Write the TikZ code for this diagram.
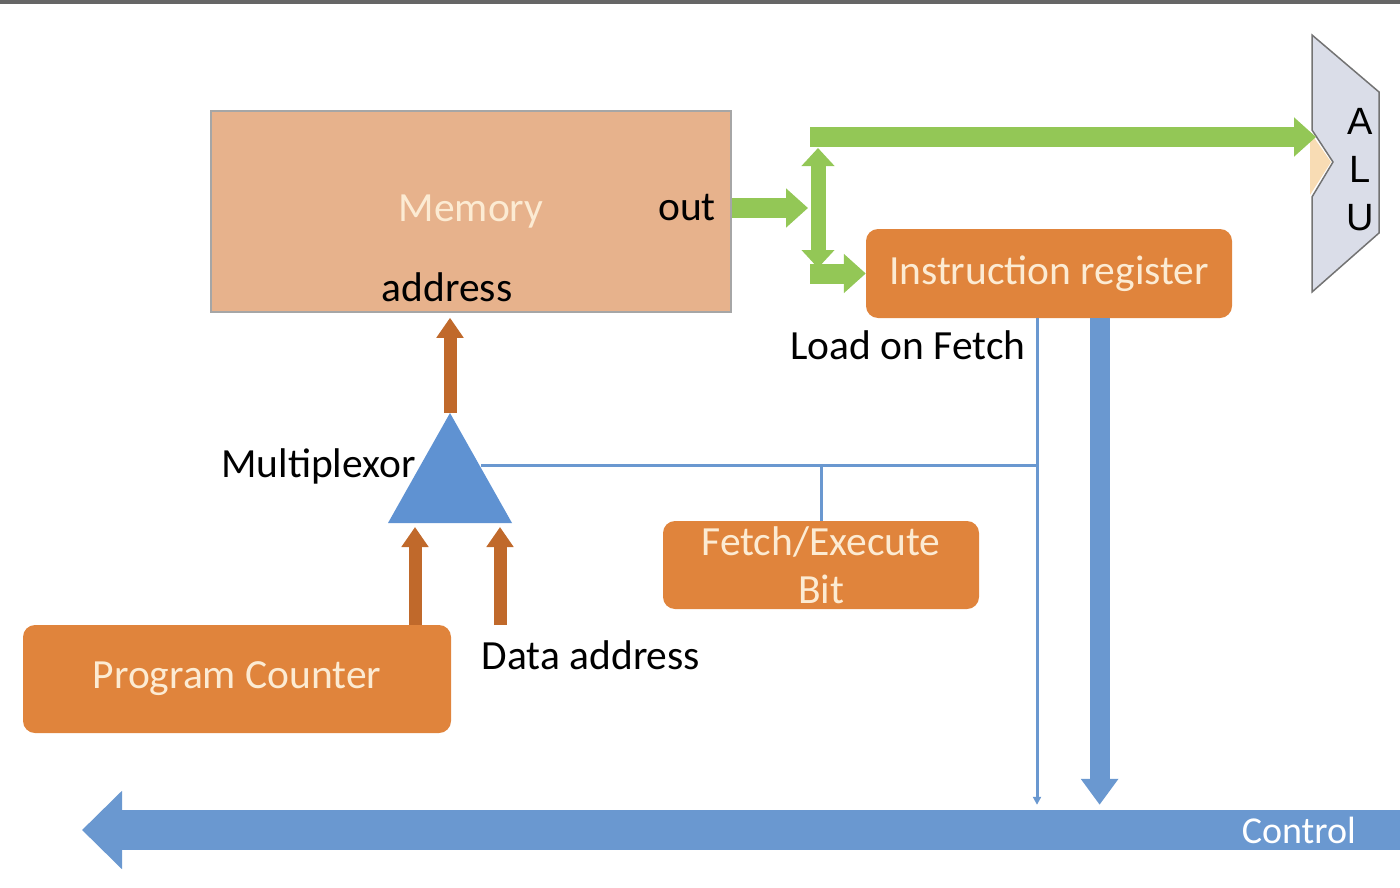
\documentclass[tikz,border=0pt]{standalone}
\usepackage{fontspec}
\setmainfont{Carlito}
\newfontfamily\alufont{Liberation Sans}
\usetikzlibrary{arrows.meta}
\definecolor{memfill}{HTML}{E7B28C}
\definecolor{boxfill}{HTML}{E0843C}
\definecolor{boxtext}{HTML}{FCEBD3}
\definecolor{busgreen}{HTML}{93C756}
\definecolor{busbrown}{HTML}{C0692B}
\definecolor{busblue}{HTML}{6A98D0}
\definecolor{muxblue}{HTML}{5F92D2}
\definecolor{alufill}{HTML}{DADDE8}
\definecolor{notchfill}{HTML}{F8DCB4}
\begin{document}
\begin{tikzpicture}[x=1pt, y=-1pt,
  every node/.style={font=\fontsize{41.5}{48}\selectfont, inner sep=0pt},
  unit/.style={fill=boxfill, rounded corners=12pt, text=boxtext, align=center},
  greenbus/.style={busgreen, line width=20pt, -{Triangle[width=38pt,length=22pt]}},
  brownbus/.style={busbrown, line width=13pt, -{Triangle[width=26pt,length=20pt]}},
  bluebus/.style={busblue, line width=20pt, -{Triangle[width=36pt,length=26pt]}},
  wire/.style={busblue, line width=3pt}]
\useasboundingbox (0,0) rectangle (1400,888);
\draw[black!60, line width=4pt] (0,2) -- (1400,2);

\node[draw=black!35, line width=1.5pt, fill=memfill, text=boxtext, minimum width=520pt, minimum height=201pt] (mem) at (471,211.5) {Memory};
\node (out) at (687,208) {out};
\node (addr) at (447,287) {address};
\node[unit, minimum width=366pt, minimum height=89pt] (ir) at (1049,273.5) {Instruction register};
\node (lof) at (908,345) {Load on Fetch};
\node[unit, minimum width=316pt, minimum height=88pt] (fe) at (821,565) {Fetch/Execute\\Bit};
\node[unit, minimum width=428pt, minimum height=108pt] (pc) at (237,679) {Program Counter};
\node (daddr) at (591,655) {Data address};
\node[anchor=east] (muxlabel) at (416,466) {Multiplexor};
\node[fill=busblue, minimum height=40pt, anchor=east, text width=212pt, inner xsep=44pt, align=right, text=white, font=\fontsize{38}{40}\selectfont] (ctrl) at (1400,830) {Control};

\filldraw[fill=alufill, draw=black!55, line width=1.5pt] (1312,35) -- (1379,92) -- (1379,233) -- (1312,292) -- (1312,197) -- (1333,162) -- (1312,130) -- cycle;
\fill[notchfill] (1310,132) -- (1331,162) -- (1310,195) -- cycle;
\node[font=\alufont\fontsize{38}{48}\selectfont, align=center] (alu) at (1360,170) {A\\L\\U};
\coordinate (aluin) at (1316,137);

\coordinate (forktop) at (818,148);
\coordinate (forkbot) at (818,268);
\draw[greenbus] (mem.east |- out) -- ([xshift=-10pt]forktop |- out);
\draw[greenbus, line width=15pt, {Triangle[width=32pt,length=18pt]}-{Triangle[width=32pt,length=18pt]}] (forktop) -- (forkbot);
\draw[greenbus] ([xshift=-8pt]forktop |- aluin) -- (aluin);
\draw[greenbus] ([xshift=-8pt]forkbot |- ir.west) -- (ir.west);

\coordinate (muxtop) at (450,413);
\fill[muxblue] (muxtop) -- (512,523) -- (388,523) -- cycle;
\coordinate (muxsel) at (481,465);
\coordinate (muxa) at (415,527);
\coordinate (muxb) at (500,527);
\coordinate (dataend) at (500,625);
\draw[brownbus] (muxtop) -- ([yshift=-5pt]mem.south -| muxtop);
\draw[brownbus] (pc.north -| muxa) -- (muxa);
\draw[brownbus] (dataend) -- (muxb);

\coordinate (loadtap) at (1037,465);
\draw[wire, -{Triangle[width=8pt,length=8pt]}] (ir.south -| loadtap) -- ([yshift=5pt]ctrl.north west -| loadtap);
\draw[wire] (loadtap) -- (muxsel);
\draw[wire] (fe.north) -- (fe.north |- loadtap);
\draw[bluebus] (ir.south -| ctrl.north west) -- ([yshift=5pt]ctrl.north west);

\coordinate (ctrlend) at (82,830);
\draw[busblue, line width=40pt, -{Triangle[width=76pt,length=40pt]}] (ctrl.west) -- (ctrlend);
\end{tikzpicture}
\end{document}
